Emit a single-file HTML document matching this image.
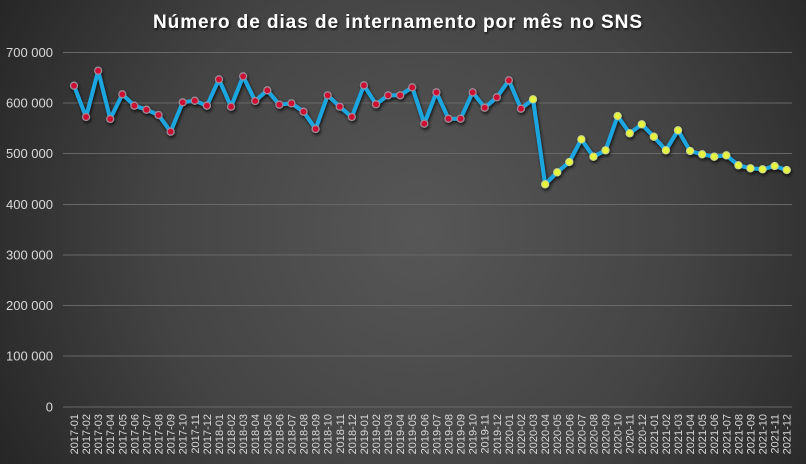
<!DOCTYPE html>
<html><head><meta charset="utf-8">
<style>
html,body{margin:0;padding:0;background:#2b2b2b;}
svg{display:block;}
</style></head>
<body>
<svg width="806" height="464" viewBox="0 0 806 464" xmlns="http://www.w3.org/2000/svg">
<defs>
<radialGradient id="bg" gradientUnits="userSpaceOnUse" cx="420" cy="230" r="480">
<stop offset="0" stop-color="#575757"/>
<stop offset="0.55" stop-color="#444444"/>
<stop offset="1" stop-color="#262626"/>
</radialGradient>
<filter id="sh" x="-5%" y="-5%" width="110%" height="120%">
<feDropShadow dx="1" dy="2" stdDeviation="1.5" flood-color="#000" flood-opacity="0.75"/>
</filter>
<filter id="tsh" x="-5%" y="-30%" width="110%" height="160%">
<feDropShadow dx="1" dy="1.5" stdDeviation="1" flood-color="#000" flood-opacity="0.8"/>
</filter>
</defs>
<rect width="806" height="464" fill="url(#bg)"/>
<text x="397.5" y="28" text-anchor="middle" font-family="Liberation Sans, sans-serif" font-weight="bold" font-size="19" fill="#ffffff" textLength="489" lengthAdjust="spacing" filter="url(#tsh)">Número de dias de internamento por mês no SNS</text>

<g stroke="#686868" stroke-width="1">
<line x1="63" y1="52.5" x2="792" y2="52.5"/>
<line x1="63" y1="103" x2="792" y2="103"/>
<line x1="63" y1="153.5" x2="792" y2="153.5"/>
<line x1="63" y1="204.5" x2="792" y2="204.5"/>
<line x1="63" y1="255" x2="792" y2="255"/>
<line x1="63" y1="305.5" x2="792" y2="305.5"/>
<line x1="63" y1="356" x2="792" y2="356"/>
<line x1="63" y1="407" x2="792" y2="407"/>
</g>
<g font-family="Liberation Sans, sans-serif" font-size="13" fill="#d9d9d9" text-anchor="end">
<text x="53" y="57">700 000</text>
<text x="53" y="107.5">600 000</text>
<text x="53" y="158">500 000</text>
<text x="53" y="209">400 000</text>
<text x="53" y="259.5">300 000</text>
<text x="53" y="310">200 000</text>
<text x="53" y="360.5">100 000</text>
<text x="53" y="411.5">0</text>
</g>

<g font-family="Liberation Sans, sans-serif" font-size="11" fill="#d9d9d9" text-anchor="end">
<text transform="translate(78,414) rotate(-90)">2017-01</text>
<text transform="translate(90.08,414) rotate(-90)">2017-02</text>
<text transform="translate(102.16,414) rotate(-90)">2017-03</text>
<text transform="translate(114.24,414) rotate(-90)">2017-04</text>
<text transform="translate(126.32,414) rotate(-90)">2017-05</text>
<text transform="translate(138.4,414) rotate(-90)">2017-06</text>
<text transform="translate(150.48,414) rotate(-90)">2017-07</text>
<text transform="translate(162.56,414) rotate(-90)">2017-08</text>
<text transform="translate(174.64,414) rotate(-90)">2017-09</text>
<text transform="translate(186.72,414) rotate(-90)">2017-10</text>
<text transform="translate(198.8,414) rotate(-90)">2017-11</text>
<text transform="translate(210.88,414) rotate(-90)">2017-12</text>
<text transform="translate(222.96,414) rotate(-90)">2018-01</text>
<text transform="translate(235.04,414) rotate(-90)">2018-02</text>
<text transform="translate(247.12,414) rotate(-90)">2018-03</text>
<text transform="translate(259.2,414) rotate(-90)">2018-04</text>
<text transform="translate(271.28,414) rotate(-90)">2018-05</text>
<text transform="translate(283.36,414) rotate(-90)">2018-06</text>
<text transform="translate(295.44,414) rotate(-90)">2018-07</text>
<text transform="translate(307.52,414) rotate(-90)">2018-08</text>
<text transform="translate(319.6,414) rotate(-90)">2018-09</text>
<text transform="translate(331.68,414) rotate(-90)">2018-10</text>
<text transform="translate(343.76,414) rotate(-90)">2018-11</text>
<text transform="translate(355.84,414) rotate(-90)">2018-12</text>
<text transform="translate(367.92,414) rotate(-90)">2019-01</text>
<text transform="translate(380,414) rotate(-90)">2019-02</text>
<text transform="translate(392.08,414) rotate(-90)">2019-03</text>
<text transform="translate(404.16,414) rotate(-90)">2019-04</text>
<text transform="translate(416.24,414) rotate(-90)">2019-05</text>
<text transform="translate(428.32,414) rotate(-90)">2019-06</text>
<text transform="translate(440.4,414) rotate(-90)">2019-07</text>
<text transform="translate(452.48,414) rotate(-90)">2019-08</text>
<text transform="translate(464.56,414) rotate(-90)">2019-09</text>
<text transform="translate(476.64,414) rotate(-90)">2019-10</text>
<text transform="translate(488.72,414) rotate(-90)">2019-11</text>
<text transform="translate(500.8,414) rotate(-90)">2019-12</text>
<text transform="translate(512.88,414) rotate(-90)">2020-01</text>
<text transform="translate(524.96,414) rotate(-90)">2020-02</text>
<text transform="translate(537.04,414) rotate(-90)">2020-03</text>
<text transform="translate(549.12,414) rotate(-90)">2020-04</text>
<text transform="translate(561.2,414) rotate(-90)">2020-05</text>
<text transform="translate(573.28,414) rotate(-90)">2020-06</text>
<text transform="translate(585.36,414) rotate(-90)">2020-07</text>
<text transform="translate(597.44,414) rotate(-90)">2020-08</text>
<text transform="translate(609.52,414) rotate(-90)">2020-09</text>
<text transform="translate(621.6,414) rotate(-90)">2020-10</text>
<text transform="translate(633.68,414) rotate(-90)">2020-11</text>
<text transform="translate(645.76,414) rotate(-90)">2020-12</text>
<text transform="translate(657.84,414) rotate(-90)">2021-01</text>
<text transform="translate(669.92,414) rotate(-90)">2021-02</text>
<text transform="translate(682,414) rotate(-90)">2021-03</text>
<text transform="translate(694.08,414) rotate(-90)">2021-04</text>
<text transform="translate(706.16,414) rotate(-90)">2021-05</text>
<text transform="translate(718.24,414) rotate(-90)">2021-06</text>
<text transform="translate(730.32,414) rotate(-90)">2021-07</text>
<text transform="translate(742.4,414) rotate(-90)">2021-08</text>
<text transform="translate(754.48,414) rotate(-90)">2021-09</text>
<text transform="translate(766.56,414) rotate(-90)">2021-10</text>
<text transform="translate(778.64,414) rotate(-90)">2021-11</text>
<text transform="translate(790.72,414) rotate(-90)">2021-12</text>
</g>

<g filter="url(#sh)">
<polyline fill="none" stroke="#1ea6e0" stroke-width="4" stroke-linejoin="round" stroke-linecap="round" points="74,85.7 86.08,117 98.16,70.7 110.24,119 122.32,94.3 134.4,105.7 146.48,109.7 158.56,115 170.64,131.7 182.72,102.3 194.8,100.7 206.88,105.7 218.96,79.3 231.04,106.7 243.12,76.3 255.2,101 267.28,90.3 279.36,104.7 291.44,103.3 303.52,111.7 315.6,129 327.68,95.3 339.76,106.7 351.84,117 363.92,85.3 376,104.3 388.08,95.3 400.16,95.3 412.24,87.3 424.32,123.7 436.4,92.3 448.48,118.7 460.56,118.7 472.64,92.3 484.72,107.7 496.8,97.3 508.88,80.3 520.96,108.7 533.04,99.3 545.12,184.3 557.2,172.3 569.28,162 581.36,139.3 593.44,156.7 605.52,150.3 617.6,116 629.68,133.3 641.76,124.3 653.84,136.7 665.92,150.3 678,130.3 690.08,151 702.16,154.3 714.24,156.7 726.32,155.3 738.4,165.3 750.48,168.3 762.56,169.3 774.64,166 786.72,170"/>
<g fill="#cf1030" stroke="#9c8a98" stroke-width="1.3">
<circle cx="74" cy="85.7" r="3.5"/>
<circle cx="86.08" cy="117" r="3.5"/>
<circle cx="98.16" cy="70.7" r="3.5"/>
<circle cx="110.24" cy="119" r="3.5"/>
<circle cx="122.32" cy="94.3" r="3.5"/>
<circle cx="134.4" cy="105.7" r="3.5"/>
<circle cx="146.48" cy="109.7" r="3.5"/>
<circle cx="158.56" cy="115" r="3.5"/>
<circle cx="170.64" cy="131.7" r="3.5"/>
<circle cx="182.72" cy="102.3" r="3.5"/>
<circle cx="194.8" cy="100.7" r="3.5"/>
<circle cx="206.88" cy="105.7" r="3.5"/>
<circle cx="218.96" cy="79.3" r="3.5"/>
<circle cx="231.04" cy="106.7" r="3.5"/>
<circle cx="243.12" cy="76.3" r="3.5"/>
<circle cx="255.2" cy="101" r="3.5"/>
<circle cx="267.28" cy="90.3" r="3.5"/>
<circle cx="279.36" cy="104.7" r="3.5"/>
<circle cx="291.44" cy="103.3" r="3.5"/>
<circle cx="303.52" cy="111.7" r="3.5"/>
<circle cx="315.6" cy="129" r="3.5"/>
<circle cx="327.68" cy="95.3" r="3.5"/>
<circle cx="339.76" cy="106.7" r="3.5"/>
<circle cx="351.84" cy="117" r="3.5"/>
<circle cx="363.92" cy="85.3" r="3.5"/>
<circle cx="376" cy="104.3" r="3.5"/>
<circle cx="388.08" cy="95.3" r="3.5"/>
<circle cx="400.16" cy="95.3" r="3.5"/>
<circle cx="412.24" cy="87.3" r="3.5"/>
<circle cx="424.32" cy="123.7" r="3.5"/>
<circle cx="436.4" cy="92.3" r="3.5"/>
<circle cx="448.48" cy="118.7" r="3.5"/>
<circle cx="460.56" cy="118.7" r="3.5"/>
<circle cx="472.64" cy="92.3" r="3.5"/>
<circle cx="484.72" cy="107.7" r="3.5"/>
<circle cx="496.8" cy="97.3" r="3.5"/>
<circle cx="508.88" cy="80.3" r="3.5"/>
<circle cx="520.96" cy="108.7" r="3.5"/>
</g>
<g fill="#e6f43c" stroke="#c9d68a" stroke-width="1.1">
<circle cx="533.04" cy="99.3" r="3.6"/>
<circle cx="545.12" cy="184.3" r="3.6"/>
<circle cx="557.2" cy="172.3" r="3.6"/>
<circle cx="569.28" cy="162" r="3.6"/>
<circle cx="581.36" cy="139.3" r="3.6"/>
<circle cx="593.44" cy="156.7" r="3.6"/>
<circle cx="605.52" cy="150.3" r="3.6"/>
<circle cx="617.6" cy="116" r="3.6"/>
<circle cx="629.68" cy="133.3" r="3.6"/>
<circle cx="641.76" cy="124.3" r="3.6"/>
<circle cx="653.84" cy="136.7" r="3.6"/>
<circle cx="665.92" cy="150.3" r="3.6"/>
<circle cx="678" cy="130.3" r="3.6"/>
<circle cx="690.08" cy="151" r="3.6"/>
<circle cx="702.16" cy="154.3" r="3.6"/>
<circle cx="714.24" cy="156.7" r="3.6"/>
<circle cx="726.32" cy="155.3" r="3.6"/>
<circle cx="738.4" cy="165.3" r="3.6"/>
<circle cx="750.48" cy="168.3" r="3.6"/>
<circle cx="762.56" cy="169.3" r="3.6"/>
<circle cx="774.64" cy="166" r="3.6"/>
<circle cx="786.72" cy="170" r="3.6"/>
</g>
</g>
</svg>
</body></html>
